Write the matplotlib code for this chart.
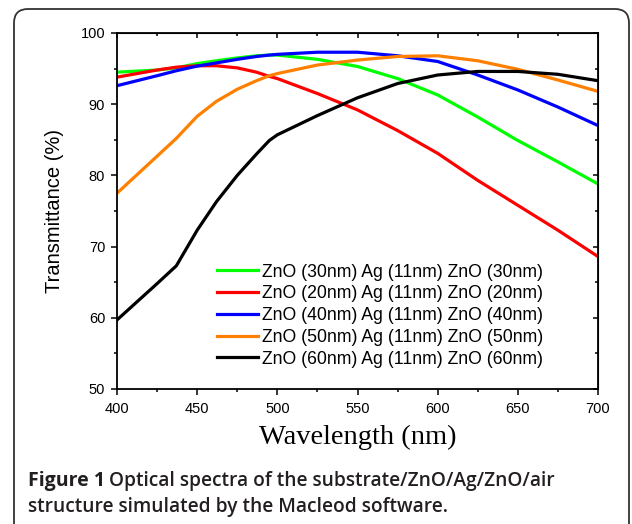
import matplotlib
matplotlib.use("Agg")
import matplotlib.pyplot as plt
from matplotlib.patches import FancyBboxPatch
from matplotlib.transforms import IdentityTransform

# Datos
wl = [400, 425, 437, 450, 462, 475, 487, 495, 500, 525, 550, 575, 600, 625, 650, 675, 700]
t30 = [94.5, 94.8, 95.1, 95.7, 96.1, 96.5, 96.8, 96.9, 96.9, 96.3, 95.3, 93.6, 91.3, 88.2, 84.9, 81.9, 78.8]
t20 = [93.8, 94.8, 95.2, 95.4, 95.4, 95.1, 94.5, 93.9, 93.6, 91.5, 89.2, 86.3, 83.1, 79.3, 75.8, 72.3, 68.6]
t40 = [92.6, 94.0, 94.7, 95.35, 95.8, 96.3, 96.7, 96.9, 97.0, 97.3, 97.3, 96.8, 96.0, 94.1, 92.0, 89.6, 87.0]
t50 = [77.5, 82.7, 85.2, 88.3, 90.4, 92.1, 93.3, 94.0, 94.3, 95.5, 96.2, 96.7, 96.8, 96.1, 94.9, 93.4, 91.8]
t60 = [59.7, 64.8, 67.3, 72.3, 76.3, 80.0, 83.0, 84.9, 85.7, 88.4, 90.9, 92.9, 94.1, 94.6, 94.6, 94.2, 93.3]

series = [t30, t20, t40, t50, t60]
labels = ["ZnO (30nm) Ag (11nm) ZnO (30nm)",
          "ZnO (20nm) Ag (11nm) ZnO (20nm)",
          "ZnO (40nm) Ag (11nm) ZnO (40nm)",
          "ZnO (50nm) Ag (11nm) ZnO (50nm)",
          "ZnO (60nm) Ag (11nm) ZnO (60nm)"]
colors = ["#00ff00", "#ff0000", "#0000ff", "#ff8000", "#000000"]

plt.rcParams["font.family"] = ["Liberation Sans", "DejaVu Sans"]

fig = plt.figure(figsize=(6.32, 5.24), dpi=100)
W, H = 632, 524
ax = fig.add_axes([117 / W, 1 - 389 / H, (598 - 117) / W, (389 - 33) / H])

for y, lab, c in zip(series, labels, colors):
    ax.plot(wl, y, color=c, lw=2.3, label=lab)

ax.set_xlim(400, 700)
ax.set_ylim(50, 100)
ax.set_xticks(range(400, 701, 50))
ax.set_xticks(range(400, 701, 25), minor=True)
ax.set_yticks(range(50, 101, 10))
ax.set_yticks(range(50, 101, 5), minor=True)
for s in ax.spines.values():
    s.set_linewidth(1.3)
ax.tick_params(which="both", labelsize=10.5, width=1.1, color="black")
ax.tick_params(which="major", length=4.5, pad=4)
ax.tick_params(which="minor", length=2.5)
ax.tick_params(axis="x", which="major", pad=5)

# ticks interiores arriba y derecha
ax2 = ax.secondary_xaxis("top")
ax2.set_xticks(range(400, 701, 50))
ax2.set_xticks(range(400, 701, 25), minor=True)
ax2.tick_params(which="both", direction="in", labeltop=False, width=1.1)
ax2.tick_params(which="major", length=3.5)
ax2.tick_params(which="minor", length=2.5)
ax3 = ax.secondary_yaxis("right")
ax3.set_yticks(range(50, 101, 10))
ax3.set_yticks(range(50, 101, 5), minor=True)
ax3.tick_params(which="both", direction="in", labelright=False, width=1.1)
ax3.tick_params(which="major", length=3.5)
ax3.tick_params(which="minor", length=2.5)

ax.set_xlabel("Wavelength (nm)", family=["Liberation Serif"], fontsize=20.5, labelpad=6)
ax.set_ylabel("Transmittance (%)", fontsize=14.5, labelpad=12)

ax.legend(loc="lower left", bbox_to_anchor=(0.208, 0.06), frameon=False,
          fontsize=12.7, handlelength=2.3, handletextpad=0.25,
          labelspacing=0.27, borderpad=0, borderaxespad=0)

# marco redondeado
box = FancyBboxPatch((14, -20), 615, 535, boxstyle="round,pad=0,rounding_size=14",
                     transform=IdentityTransform(), fill=False, ec="#333333", lw=1.3)
fig.patches.append(box)

# pie de figura
cap_font = ["Open Sans", "DejaVu Sans"]
t1 = fig.text(28 / W, 1 - 481 / H, "Figure 1", family=cap_font, fontweight="bold",
              fontsize=14, color="#231f20", va="center")
fig.canvas.draw()
bb = t1.get_window_extent()
fig.text((bb.x1 + 4) / W, 1 - 481 / H,
         "Optical spectra of the substrate/ZnO/Ag/ZnO/air", family=cap_font,
         fontweight="semibold", fontsize=13.8, color="#231f20", va="center")
fig.text(28 / W, 1 - 507 / H, "structure simulated by the Macleod software.",
         family=cap_font, fontweight="semibold", fontsize=13.8, color="#231f20", va="center")

fig.savefig("out.png", dpi=100)
